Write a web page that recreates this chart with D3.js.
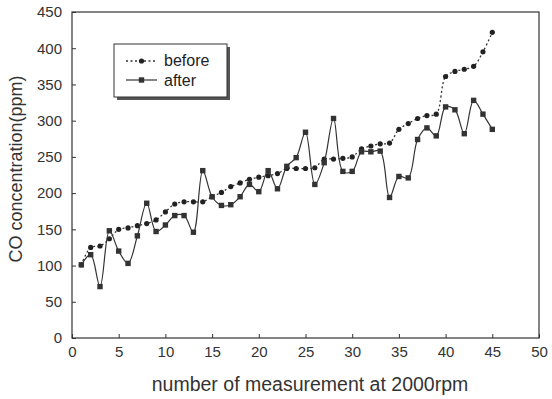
<!DOCTYPE html>
<html>
<head>
    <meta charset="utf-8">
    <style>
        body { margin: 0; background: #fff; }
        svg { font-family: 'Liberation Sans', Arial, sans-serif; }
        .axis text { font-size: 15px; fill: #333; }
        .axis line, .axis path { stroke: #333; }
        .axis-label { font-size: 18px; fill: #333; }
        .legend text { font-size: 16px; fill: #222; }
    </style>
</head>
<body>
<svg width="552" height="399"></svg>

<script src="https://d3js.org/d3.v7.min.js"></script>
<script>
    // measurement number 1..45
    let measurement = d3.range(1, 46)

    let before = [101, 125, 127, 137, 150, 152, 155, 158, 163, 174,
        185, 188, 188, 188, 195, 201, 209, 214, 219, 222,
        224, 227, 234, 234, 234, 235, 247, 247, 248, 250,
        261, 265, 268, 269, 288, 296, 303, 307, 309, 361,
        368, 371, 375, 395, 422]

    let after = [101, 115, 71, 148, 120, 103, 141, 186, 147, 156,
        169, 169, 146, 231, 195, 183, 184, 195, 212, 202,
        231, 206, 237, 249, 284, 212, 242, 303, 230, 230,
        257, 257, 258, 194, 223, 221, 274, 290, 279, 319,
        315, 282, 328, 309, 288]

    let xTicks = [0, 5, 10, 15, 20, 25, 30, 35, 40, 45, 50]
    let yTicks = [0, 50, 100, 150, 200, 250, 300, 350, 400, 450]

    let svg = d3.select("svg")
    let margin = { top: 12, right: 13, bottom: 61, left: 72 }
    let width = 552 - margin.left - margin.right
    let height = 399 - margin.top - margin.bottom

    let g = svg.append("g").attr("transform", `translate(${margin.left},${margin.top})`)

    let x = d3.scaleLinear().domain([0, 50]).range([0, width])
    let y = d3.scaleLinear().domain([0, 450]).range([height, 0])

    // frame
    g.append("rect")
        .attr("width", width).attr("height", height)
        .attr("fill", "none").attr("stroke", "#333").attr("stroke-width", 1.2)

    g.append("g")
        .attr("class", "x axis")
        .attr("transform", `translate(0,${height})`)
        .call(d3.axisBottom(x).tickValues(xTicks).tickSizeInner(-4).tickSizeOuter(0).tickPadding(8))
        .call(g => g.select(".domain").remove())

    g.append("g")
        .attr("class", "y axis")
        .call(d3.axisLeft(y).tickValues(yTicks).tickSizeInner(-4).tickSizeOuter(0).tickPadding(10))
        .call(g => g.select(".domain").remove())

    let beforeData = measurement.map((m, i) => [m, before[i]])
    let afterData = measurement.map((m, i) => [m, after[i]])

    let line = d3.line()
        .x(d => x(d[0]))
        .y(d => y(d[1]))
        .curve(d3.curveCatmullRom.alpha(0.5))

    // before: dotted
    g.append("path")
        .datum(beforeData)
        .attr("fill", "none")
        .attr("stroke", "#333")
        .attr("stroke-width", 1.3)
        .attr("stroke-dasharray", "2,2.5")
        .attr("d", line)

    g.selectAll(".dot-before")
        .data(beforeData)
        .join("circle")
        .attr("class", "dot-before")
        .attr("cx", d => x(d[0]))
        .attr("cy", d => y(d[1]))
        .attr("r", 2.6)
        .attr("fill", "#222")

    // after: solid
    g.append("path")
        .datum(afterData)
        .attr("fill", "none")
        .attr("stroke", "#333")
        .attr("stroke-width", 1.2)
        .attr("d", line)

    g.selectAll(".dot-after")
        .data(afterData)
        .join("rect")
        .attr("class", "dot-after")
        .attr("x", d => x(d[0]) - 2.7)
        .attr("y", d => y(d[1]) - 2.7)
        .attr("width", 5.4)
        .attr("height", 5.4)
        .attr("fill", "#333")

    // legend
    let legend = svg.append("g").attr("class", "legend")
    legend.append("rect")
        .attr("x", 117).attr("y", 47).attr("width", 113).attr("height", 53)
        .attr("fill", "#555")
    legend.append("rect")
        .attr("x", 114).attr("y", 44).attr("width", 113).attr("height", 53)
        .attr("fill", "#fff").attr("stroke", "#333").attr("stroke-width", 1)

    legend.append("line")
        .attr("x1", 126).attr("x2", 157).attr("y1", 61).attr("y2", 61)
        .attr("stroke", "#333").attr("stroke-width", 1.3).attr("stroke-dasharray", "2,2.5")
    legend.append("circle").attr("cx", 141.5).attr("cy", 61).attr("r", 2.6).attr("fill", "#222")
    legend.append("text").attr("x", 164).attr("y", 66).text("before")

    legend.append("line")
        .attr("x1", 126).attr("x2", 157).attr("y1", 80).attr("y2", 80)
        .attr("stroke", "#333").attr("stroke-width", 1.2)
    legend.append("rect").attr("x", 138.8).attr("y", 77.3).attr("width", 5.4).attr("height", 5.4).attr("fill", "#333")
    legend.append("text").attr("x", 164).attr("y", 86).text("after")

    // axis labels
    svg.append("text")
        .attr("class", "axis-label")
        .attr("x", 310)
        .attr("y", 391)
        .attr("text-anchor", "middle")
        .style("font-size", "19.5px")
        .text("number of measurement at 2000rpm")

    svg.append("text")
        .attr("class", "axis-label")
        .attr("transform", `translate(22,169) rotate(-90)`)
        .attr("text-anchor", "middle")
        .text("CO concentration(ppm)")
</script>
</body>
</html>
